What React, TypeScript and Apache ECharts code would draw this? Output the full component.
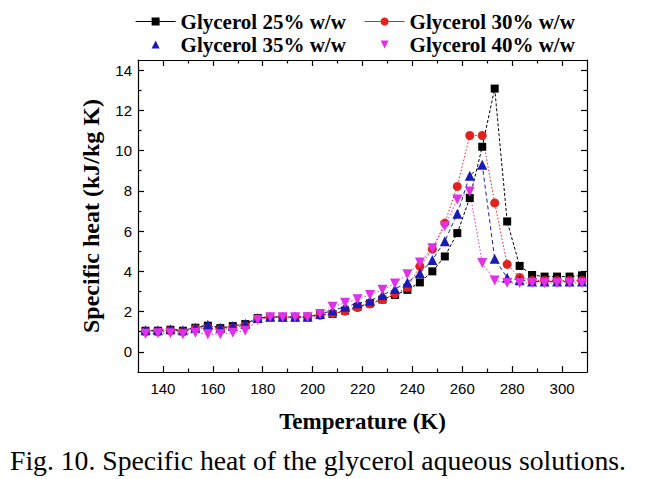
import React, { useEffect, useRef } from "react";
import * as echarts from "echarts";

const temps = [133, 138, 143, 148, 153, 158, 163, 168, 173, 178, 183, 188, 193, 198, 203, 208, 213, 218, 223, 228, 233, 238, 243, 248, 253, 258, 263, 268, 273, 278, 283, 288, 293, 298, 303, 308];

const glycerol25 = [1.05, 1.05, 1.1, 1.05, 1.2, 1.3, 1.18, 1.28, 1.38, 1.68, 1.72, 1.72, 1.72, 1.75, 1.85, 1.88, 2.05, 2.24, 2.41, 2.6, 2.83, 3.08, 3.45, 4.0, 4.74, 5.9, 7.64, 10.19, 13.08, 6.48, 4.27, 3.82, 3.74, 3.74, 3.74, 3.8];
const glycerol30 = [1.0, 1.0, 1.05, 1.0, 1.15, 1.2, 1.1, 1.2, 1.3, 1.65, 1.72, 1.72, 1.72, 1.72, 1.82, 1.9, 2.02, 2.2, 2.38, 2.6, 2.88, 3.2, 4.25, 5.1, 6.4, 8.22, 10.75, 10.75, 7.4, 4.35, 3.7, 3.55, 3.55, 3.55, 3.55, 3.55];
const glycerol35 = [1.08, 1.08, 1.12, 1.08, 1.2, 1.35, 1.2, 1.28, 1.4, 1.68, 1.75, 1.75, 1.75, 1.75, 1.88, 2.05, 2.24, 2.41, 2.54, 2.83, 3.12, 3.45, 3.91, 4.57, 5.5, 6.86, 8.75, 9.3, 4.62, 3.68, 3.56, 3.5, 3.5, 3.5, 3.5, 3.5];
const glycerol40 = [0.9, 0.92, 0.92, 0.88, 0.95, 0.88, 0.88, 0.95, 1.05, 1.58, 1.72, 1.72, 1.72, 1.72, 1.88, 2.24, 2.44, 2.61, 2.83, 3.08, 3.4, 3.86, 4.44, 5.15, 6.24, 7.57, 7.97, 4.42, 3.55, 3.42, 3.42, 3.42, 3.42, 3.42, 3.42, 3.42];

const seriesNames = ["Glycerol 25% w/w", "Glycerol 30% w/w", "Glycerol 35% w/w", "Glycerol 40% w/w"];

const xMajorTicks = [140, 160, 180, 200, 220, 240, 260, 280, 300];
const xMinorTicks = [150, 170, 190, 210, 230, 250, 270, 290];
const yMajorTicks = [0, 2, 4, 6, 8, 10, 12, 14];
const yMinorTicks = [1, 3, 5, 7, 9, 11, 13];

const X_MIN = 130;
const X_MAX = 310;
const Y_MIN = -1;
const Y_MAX = 14.5;

const serif = "Liberation Serif";
const sans = "Liberation Sans";

export default function App() {
  const ref = useRef<HTMLDivElement>(null);

  useEffect(() => {
    if (!ref.current) return;
    const chart = echarts.init(ref.current, null, { renderer: "svg" });

    const mkX = (pos: "bottom" | "top", ticks: number[], len: number, labels: boolean, line: boolean, name?: string) => ({
      type: "value",
      position: pos,
      min: X_MIN,
      max: X_MAX,
      name: name,
      nameLocation: "middle",
      nameGap: 38,
      nameTextStyle: { fontFamily: serif, fontWeight: "bold", fontSize: 23, color: "#000" },
      axisLine: { show: line, onZero: false, lineStyle: { color: "#000", width: 1.2 } },
      axisTick: { show: true, inside: true, length: len, customValues: ticks, lineStyle: { color: "#000", width: 1.2 } },
      axisLabel: labels
        ? { show: true, customValues: ticks, fontFamily: sans, fontSize: 15, color: "#000", margin: 9 }
        : { show: false },
      splitLine: { show: false },
    });

    const mkY = (pos: "left" | "right", ticks: number[], len: number, labels: boolean, line: boolean, name?: string) => ({
      type: "value",
      position: pos,
      min: Y_MIN,
      max: Y_MAX,
      name: name,
      nameLocation: "middle",
      nameGap: 35,
      nameRotate: 90,
      nameTextStyle: { fontFamily: serif, fontWeight: "bold", fontSize: 24, color: "#000" },
      axisLine: { show: line, onZero: false, lineStyle: { color: "#000", width: 1.2 } },
      axisTick: { show: true, inside: true, length: len, customValues: ticks, lineStyle: { color: "#000", width: 1.2 } },
      axisLabel: labels
        ? { show: true, customValues: ticks, fontFamily: sans, fontSize: 15, color: "#000", margin: 6 }
        : { show: false },
      splitLine: { show: false },
    });

    const mkSeries = (name: string, vals: number[], color: string, symbol: string, size: number, dash: number[]) => ({
      name,
      type: "line",
      xAxisIndex: 0,
      yAxisIndex: 0,
      data: temps.map((t, i) => [t, vals[i]]),
      symbol,
      symbolSize: size,
      itemStyle: { color },
      lineStyle: { color, width: 1, type: dash },
      z: 3,
    });

    const legendBase = {
      orient: "horizontal",
      padding: 0,
      itemWidth: 40,
      itemHeight: 10,
      textStyle: { fontFamily: serif, fontWeight: "bold", fontSize: 21, lineHeight: 21, color: "#000" },
      lineStyle: { type: "solid", width: 1.2 },
      selectedMode: false,
    };

    chart.setOption({
      animation: false,
      backgroundColor: "#fff",
      grid: { left: 138, right: 58, top: 60, bottom: 107, containLabel: false },
      legend: [
        { ...legendBase, left: 135, top: 11, data: [seriesNames[0]] },
        { ...legendBase, left: 364, top: 11, data: [seriesNames[1]] },
        { ...legendBase, left: 135, top: 34, data: [{ name: seriesNames[2], lineStyle: { opacity: 0 } }] },
        { ...legendBase, left: 364, top: 34, data: [{ name: seriesNames[3], lineStyle: { opacity: 0 } }] },
      ],
      xAxis: [
        mkX("bottom", xMajorTicks, 6, true, true, "Temperature (K)"),
        mkX("bottom", xMinorTicks, 3.5, false, false),
        mkX("top", xMajorTicks, 6, false, true),
        mkX("top", xMinorTicks, 3.5, false, false),
      ],
      yAxis: [
        mkY("left", yMajorTicks, 6, true, true, "Specific heat (kJ/kg K)"),
        mkY("left", yMinorTicks, 3.5, false, false),
        mkY("right", yMajorTicks, 6, false, true),
        mkY("right", yMinorTicks, 3.5, false, false),
      ],
      series: [
        mkSeries(seriesNames[0], glycerol25, "#000000", "rect", 8, [3, 2]),
        mkSeries(seriesNames[1], glycerol30, "#e3221f", "circle", 9, [1.5, 2]),
        mkSeries(seriesNames[2], glycerol35, "#1a1ab8", "triangle", 10, [4, 3]),
        mkSeries(seriesNames[3], glycerol40, "#e030e8", "path://M0,0 L10,0 L5,9 Z", 10, [1.5, 2]),
      ],
      graphic: [
        {
          type: "text",
          left: 10,
          top: 446,
          style: {
            text: "Fig. 10. Specific heat of the glycerol aqueous solutions.",
            fontFamily: serif,
            fontSize: 27.7,
            fill: "#000",
          },
        },
      ],
    });

    return () => chart.dispose();
  }, []);

  return (
    <div
      ref={ref}
      style={{ position: "absolute", left: 0, top: 0, width: 645, height: 479 }}
    />
  );
}
